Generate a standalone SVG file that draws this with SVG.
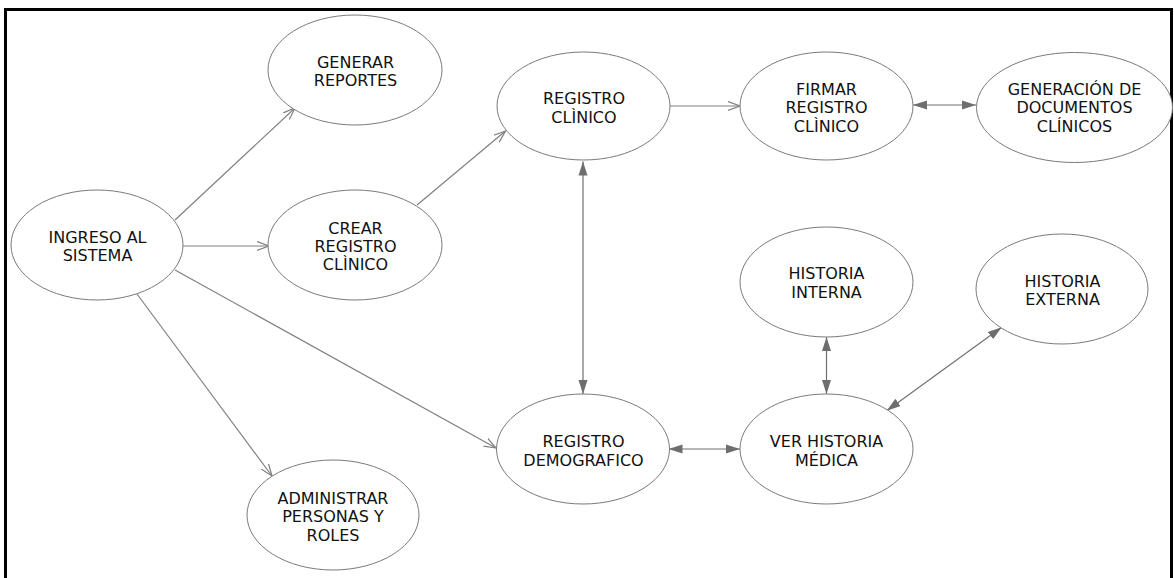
<svg xmlns="http://www.w3.org/2000/svg" width="1174" height="578" viewBox="0 0 1174 578">
  <style>
    .node ellipse { fill: #ffffff; stroke: #7a7a7a; stroke-width: 1; }
    .node text { font-family: "DejaVu Sans", Verdana, sans-serif; font-size: 16px; fill: #111111; text-anchor: middle; }
    .flow { stroke: #808080; stroke-width: 1.2; fill: none; }
    .open { marker-end: url(#openArrow); }
    .both { marker-start: url(#solidArrow); marker-end: url(#solidArrow); stroke: #707070; }
  </style>
  <defs>
    <marker id="openArrow" markerUnits="userSpaceOnUse" markerWidth="14" markerHeight="12" refX="12" refY="5" orient="auto">
      <path d="M0,0.5 L12,5 L0,9.5" fill="none" stroke="#808080" stroke-width="1.2"/>
    </marker>
    <marker id="solidArrow" markerUnits="userSpaceOnUse" markerWidth="16" markerHeight="12" refX="14" refY="5" orient="auto-start-reverse">
      <path d="M0,0.5 L14,5 L0,9.5 Z" fill="#6e6e6e"/>
    </marker>
  </defs>

  <rect width="1174" height="578" fill="#ffffff"/>
  <!-- frame -->
  <path d="M5.5,578 V9.5 H1171.5 V578" fill="none" stroke="#000000" stroke-width="3"/>

  <g id="connectors">
    <line class="flow open" x1="175" y1="220" x2="295" y2="108"/>
    <line class="flow open" x1="183" y1="246" x2="269" y2="246"/>
    <line class="flow open" x1="417" y1="205" x2="505.5" y2="131"/>
    <line class="flow open" x1="175" y1="270" x2="496" y2="448"/>
    <line class="flow open" x1="137" y1="294" x2="272" y2="476"/>
    <line class="flow open" x1="670" y1="106" x2="740" y2="106"/>
    <line class="flow both" x1="913" y1="105" x2="976" y2="105"/>
    <line class="flow both" x1="583" y1="161.5" x2="583" y2="394"/>
    <line class="flow both" x1="668.5" y1="449" x2="740" y2="449"/>
    <line class="flow both" x1="826.5" y1="337" x2="826.5" y2="394"/>
    <line class="flow both" x1="1001.7" y1="327.3" x2="886.7" y2="410.7"/>
  </g>

  <g id="ingreso" class="node">
    <ellipse cx="97" cy="245" rx="86" ry="55"/>
    <text x="97.5" y="242.7">INGRESO AL</text>
    <text x="97.5" y="261">SISTEMA</text>
  </g>
  <g id="generar-reportes" class="node">
    <ellipse cx="355" cy="70" rx="87" ry="55"/>
    <text x="355.5" y="67.7">GENERAR</text>
    <text x="355.5" y="86">REPORTES</text>
  </g>
  <g id="crear-registro" class="node">
    <ellipse cx="355" cy="245" rx="87" ry="55"/>
    <text x="355.5" y="234">CREAR</text>
    <text x="355.5" y="252.3">REGISTRO</text>
    <text x="355.5" y="270.3">CLÌNICO</text>
  </g>
  <g id="administrar" class="node">
    <ellipse cx="333" cy="515" rx="86" ry="55"/>
    <text x="333" y="504">ADMINISTRAR</text>
    <text x="333" y="522.3">PERSONAS Y</text>
    <text x="333" y="540.7">ROLES</text>
  </g>
  <g id="registro-clinico" class="node">
    <ellipse cx="583.5" cy="106" rx="86.5" ry="54"/>
    <text x="584" y="104.3">REGISTRO</text>
    <text x="584" y="122.7">CLÌNICO</text>
  </g>
  <g id="firmar" class="node">
    <ellipse cx="826.5" cy="106" rx="86.5" ry="54"/>
    <text x="826.5" y="95">FIRMAR</text>
    <text x="826.5" y="113.3">REGISTRO</text>
    <text x="826.5" y="131.7">CLÌNICO</text>
  </g>
  <g id="generacion-documentos" class="node">
    <ellipse cx="1074.5" cy="107.5" rx="98" ry="55"/>
    <text x="1074.5" y="95">GENERACIÓN DE</text>
    <text x="1074.5" y="113.3">DOCUMENTOS</text>
    <text x="1074.5" y="131.7">CLÍNICOS</text>
  </g>
  <g id="historia-interna" class="node">
    <ellipse cx="826.5" cy="282" rx="86.5" ry="55"/>
    <text x="826.5" y="279.3">HISTORIA</text>
    <text x="826.5" y="297.7">INTERNA</text>
  </g>
  <g id="historia-externa" class="node">
    <ellipse cx="1062" cy="289" rx="86" ry="55"/>
    <text x="1062.5" y="286.7">HISTORIA</text>
    <text x="1062.5" y="305.3">EXTERNA</text>
  </g>
  <g id="registro-demografico" class="node">
    <ellipse cx="583" cy="449" rx="86.5" ry="55"/>
    <text x="583.5" y="447.3">REGISTRO</text>
    <text x="583.5" y="465.7">DEMOGRAFICO</text>
  </g>
  <g id="ver-historia" class="node">
    <ellipse cx="826.5" cy="449" rx="86.5" ry="55"/>
    <text x="826.5" y="447.3">VER HISTORIA</text>
    <text x="826.5" y="465.7">MÉDICA</text>
  </g>
</svg>
